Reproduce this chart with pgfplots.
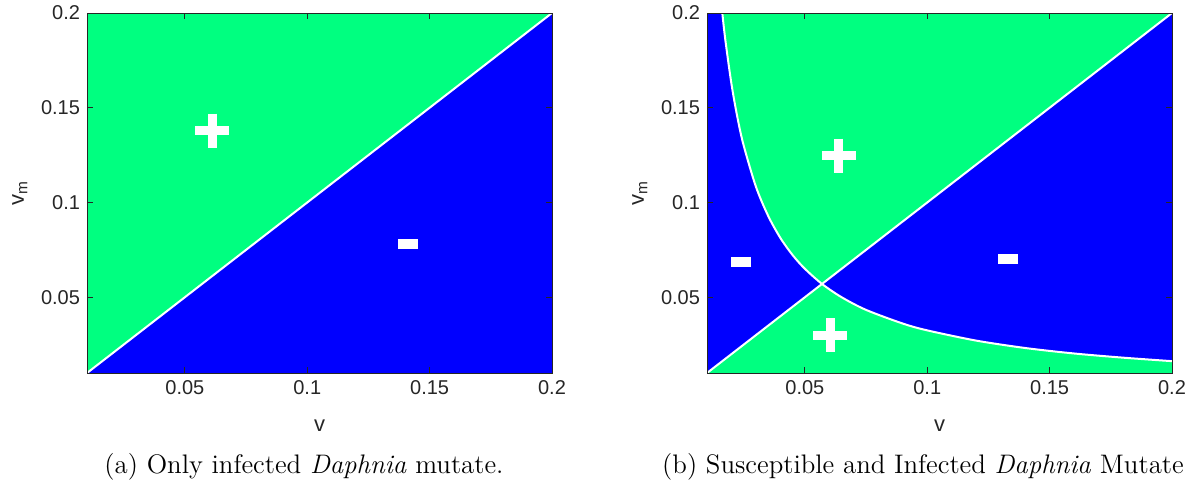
\documentclass[border=0pt]{standalone}
\usepackage{pgfplots}
\pgfplotsset{compat=1.18}
\usepackage{fontspec}
\newfontfamily\arialf{Liberation Sans}
\definecolor{mgreen}{RGB}{0,255,128}
\definecolor{mblue}{RGB}{0,0,255}
\definecolor{maxis}{RGB}{38,38,38}
\pgfplotsset{
 mystyle/.style={
  scale only axis, width=232.5pt, height=180pt,
  xmin=0.01,xmax=0.2,ymin=0.01,ymax=0.2,
  xtick={0.05,0.1,0.15,0.2}, ytick={0.05,0.1,0.15,0.2},
  xticklabels={0.05,0.1,0.15,0.2}, yticklabels={0.05,0.1,0.15,0.2},
  tick align=inside, major tick length=3pt,
  axis line style={maxis, line width=0.5pt},
  tick style={maxis, line width=0.5pt},
  ticklabel style={font=\arialf\fontsize{10}{12}\selectfont, text=maxis},
  label style={font=\arialf\fontsize{11}{13}\selectfont, text=maxis},
  xlabel={v}, ylabel={v\textsubscript{m}},
  xlabel style={at={(axis description cs:0.5,0)}, anchor=center, yshift=-26.5pt},
  axis on top,
  anchor=south west,
 },
 plusmark/.style={only marks, mark=+, mark size=8.5pt, white, mark options={line width=4.5pt}},
 minusmark/.style={only marks, mark=-, mark size=5pt, white, mark options={line width=5pt}},
}
\begin{document}
\begin{tikzpicture}
\useasboundingbox (0,0) rectangle (595.5pt,-241pt);
% ---------- panel (a)
\begin{axis}[mystyle, at={(43.5pt,-186.5pt)}]
\addplot[draw=none, fill=mblue] coordinates {(0.01,0.01) (0.2,0.01) (0.2,0.2)} -- cycle;
\addplot[draw=none, fill=mgreen] coordinates {(0.01,0.01) (0.2,0.2) (0.01,0.2)} -- cycle;
\addplot[white, line width=1pt] coordinates {(0.01,0.01) (0.2,0.2)};
\addplot[plusmark] coordinates {(0.0611,0.1379)};
\addplot[minusmark] coordinates {(0.1412,0.0779)};
\end{axis}
% ---------- panel (b)
\begin{axis}[mystyle, at={(353.5pt,-186.5pt)}]
\addplot[draw=none, fill=mblue] coordinates {(0.01,0.01) (0.2,0.01) (0.2,0.2) (0.01,0.2)} -- cycle;
\addplot[draw=none, fill=mgreen] coordinates {(0.01625,0.2) (0.0175,0.1857) (0.02,0.1625) (0.0225,0.1444) (0.025,0.13) (0.03,0.1083) (0.035,0.0929) (0.04,0.08125) (0.045,0.0722) (0.05,0.065) (0.057,0.057) (0.2,0.2)} -- cycle;
\addplot[draw=none, fill=mgreen] coordinates {(0.01,0.01) (0.057,0.057) (0.065,0.05) (0.075,0.0433) (0.09,0.0361) (0.1,0.0325) (0.12,0.0271) (0.14,0.0232) (0.16,0.0203) (0.18,0.0181) (0.2,0.01625) (0.2,0.01)} -- cycle;
\addplot[white, line width=1pt] coordinates {(0.01,0.01) (0.2,0.2)};
\addplot[white, line width=1pt, smooth] coordinates {(0.01625,0.2) (0.0175,0.1857) (0.02,0.1625) (0.0225,0.1444) (0.025,0.13) (0.03,0.1083) (0.035,0.0929) (0.04,0.08125) (0.045,0.0722) (0.05,0.065) (0.057,0.057) (0.065,0.05) (0.075,0.0433) (0.09,0.0361) (0.1,0.0325) (0.12,0.0271) (0.14,0.0232) (0.16,0.0203) (0.18,0.0181) (0.2,0.01625)};
\addplot[plusmark] coordinates {(0.0639,0.1247) (0.0603,0.030)};
\addplot[minusmark] coordinates {(0.0239,0.0684) (0.133,0.070)};
\end{axis}
\node[font=\fontsize{13.4}{16}\selectfont, anchor=base, inner sep=0pt] at (152pt,-236.5pt) {(a) Only infected \textit{Daphnia} mutate.};
\node[font=\fontsize{13.4}{16}\selectfont, anchor=base, inner sep=0pt] at (461.5pt,-236.5pt) {(b) Susceptible and Infected \textit{Daphnia} Mutate};
\end{tikzpicture}
\end{document}
